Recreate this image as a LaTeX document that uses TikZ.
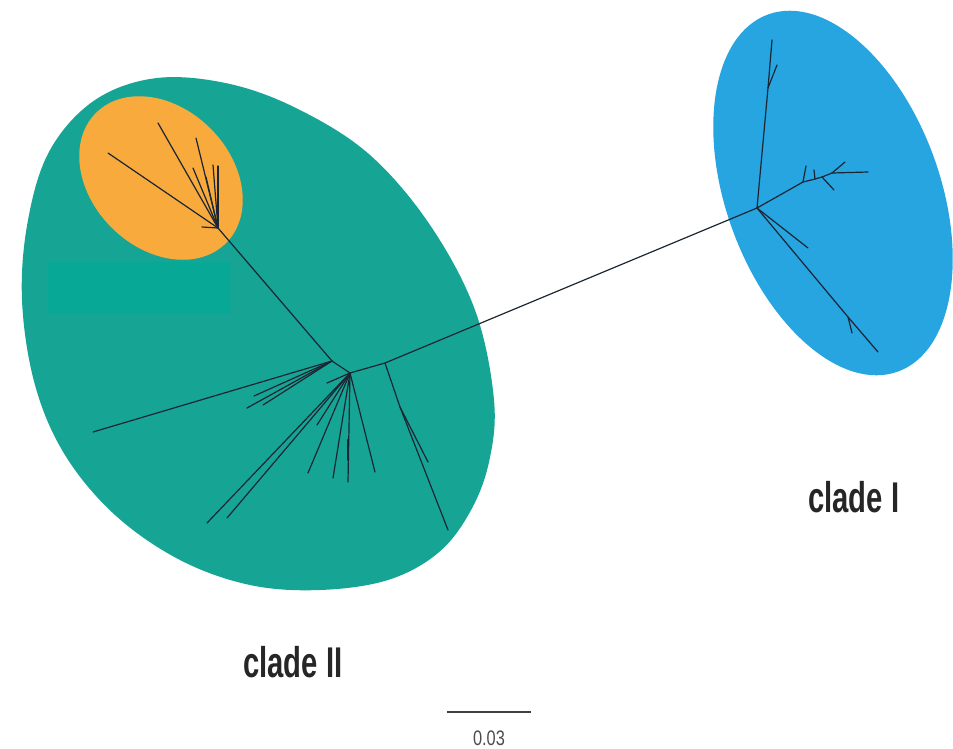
\documentclass[tikz,border=0pt]{standalone}
\usepackage{fontspec}
\newfontfamily\labelfont[FakeStretch=0.68]{Liberation Sans}
\newfontfamily\scalefont[FakeStretch=0.78]{Liberation Sans}
\definecolor{cladeteal}{HTML}{16A595}
\definecolor{cladeorange}{HTML}{F9AA3C}
\definecolor{cladeblue}{HTML}{26A5E0}
\definecolor{boxteal}{HTML}{08A896}
\definecolor{branch}{HTML}{1A2633}
\tikzset{
  br/.style={draw=branch, line width=1.2pt, line cap=round},
  cladelabel/.style={font=\labelfont\bfseries\fontsize{43}{43}\selectfont, text=black!85, inner sep=0pt, anchor=base west},
}
\begin{document}
\begin{tikzpicture}[x=1pt,y=-1pt]
\useasboundingbox (0,0) rectangle (953,748);
% clade regions
\fill[cladeteal] plot[smooth cycle, tension=0.6] coordinates {
  (157,78) (230,84) (300,110) (370,155) (430,225) (475,310) (494,400)
  (489,462) (470,512) (438,553) (388,580) (320,590) (250,585) (180,560) (115,515)
  (65,455) (35,385) (22,300) (28,220) (50,150) (95,100)};
\fill[cladeorange, rotate around={-45:(161,178)}] (161,178) ellipse [x radius=92pt, y radius=70pt];
\fill[cladeblue, rotate around={-70:(833,193)}] (833,193) ellipse [x radius=190pt, y radius=107pt];
\fill[boxteal] (48,262) rectangle (230,314);
% internal nodes
\coordinate (O) at (218,228);
\coordinate (N1) at (332,361);
\coordinate (N2) at (350,373);
\coordinate (N3) at (385,363);
\coordinate (R) at (400,407);
\coordinate (B) at (757,208);
\coordinate (U) at (768,88);
\coordinate (R1) at (803,182);
\coordinate (R2) at (815,179);
\coordinate (R3) at (822,177);
\coordinate (R4) at (832,173);
\coordinate (D) at (848,317);
% orange leaves
\coordinate (o1) at (108,153);
\coordinate (o2) at (158,123);
\coordinate (o3) at (196,138);
\coordinate (o4) at (193,168);
\coordinate (o5) at (213,165);
\coordinate (o6) at (218,166);
\coordinate (o7) at (206,177);
\coordinate (o8) at (202,227);
% teal leaves
\coordinate (l1) at (93,432);
\coordinate (l2) at (247,408);
\coordinate (l3) at (263,405);
\coordinate (l4) at (254,396);
\coordinate (f1) at (207,523);
\coordinate (f2) at (227,518);
\coordinate (f3) at (317,425);
\coordinate (f0) at (327,383);
\coordinate (f4) at (308,473);
\coordinate (f5) at (333,478);
\coordinate (f6) at (348,482);
\coordinate (f7) at (375,472);
\coordinate (r1) at (448,530);
\coordinate (r2) at (428,462);
% blue leaves
\coordinate (u1) at (772,40);
\coordinate (u2) at (777,65);
\coordinate (b1) at (806,166);
\coordinate (b2) at (814,170);
\coordinate (b3) at (834,190);
\coordinate (b4) at (845,162);
\coordinate (b5) at (868,172);
\coordinate (b6) at (808,248);
\coordinate (b7) at (878,352);
\coordinate (b8) at (852,333);
% branches
\foreach \l in {o1,o2,o3,o4,o5,o6,o7,o8} \draw[br] (O) -- (\l);
\draw[br] (O) -- (N1) -- (N2) -- (N3) -- (B);
\foreach \l in {l1,l2,l3,l4} \draw[br] (N1) -- (\l);
\foreach \l in {f0,f1,f2,f3,f4,f5,f6,f7} \draw[br] (N2) -- (\l);
\draw[br, line width=2.2pt] (348,440) -- (348,460);
\draw[br] (N3) -- (R) -- (r1);
\draw[br] (R) -- (r2);
\draw[br] (B) -- (U) -- (u1);
\draw[br] (U) -- (u2);
\draw[br] (B) -- (R1) -- (R2) -- (R3) -- (R4) -- (b5);
\draw[br] (R1) -- (b1);
\draw[br] (R2) -- (b2);
\draw[br] (R3) -- (b3);
\draw[br] (R4) -- (b4);
\draw[br] (B) -- (b6);
\draw[br] (B) -- (D) -- (b7);
\draw[br] (D) -- (b8);
% labels
\node[cladelabel] (c2) at (243,677) {clade II};
\node[cladelabel] (c1) at (808,512) {clade I};
% scale bar
\coordinate (s1) at (447,712);
\coordinate (s2) at (531,712);
\draw[draw=black!75, line width=1.8pt] (s1) -- (s2);
\node[font=\scalefont\fontsize{21}{21}\selectfont, text=black!70, inner sep=0pt, anchor=base] (sc) at (489,745) {0.03};
\end{tikzpicture}
\end{document}
